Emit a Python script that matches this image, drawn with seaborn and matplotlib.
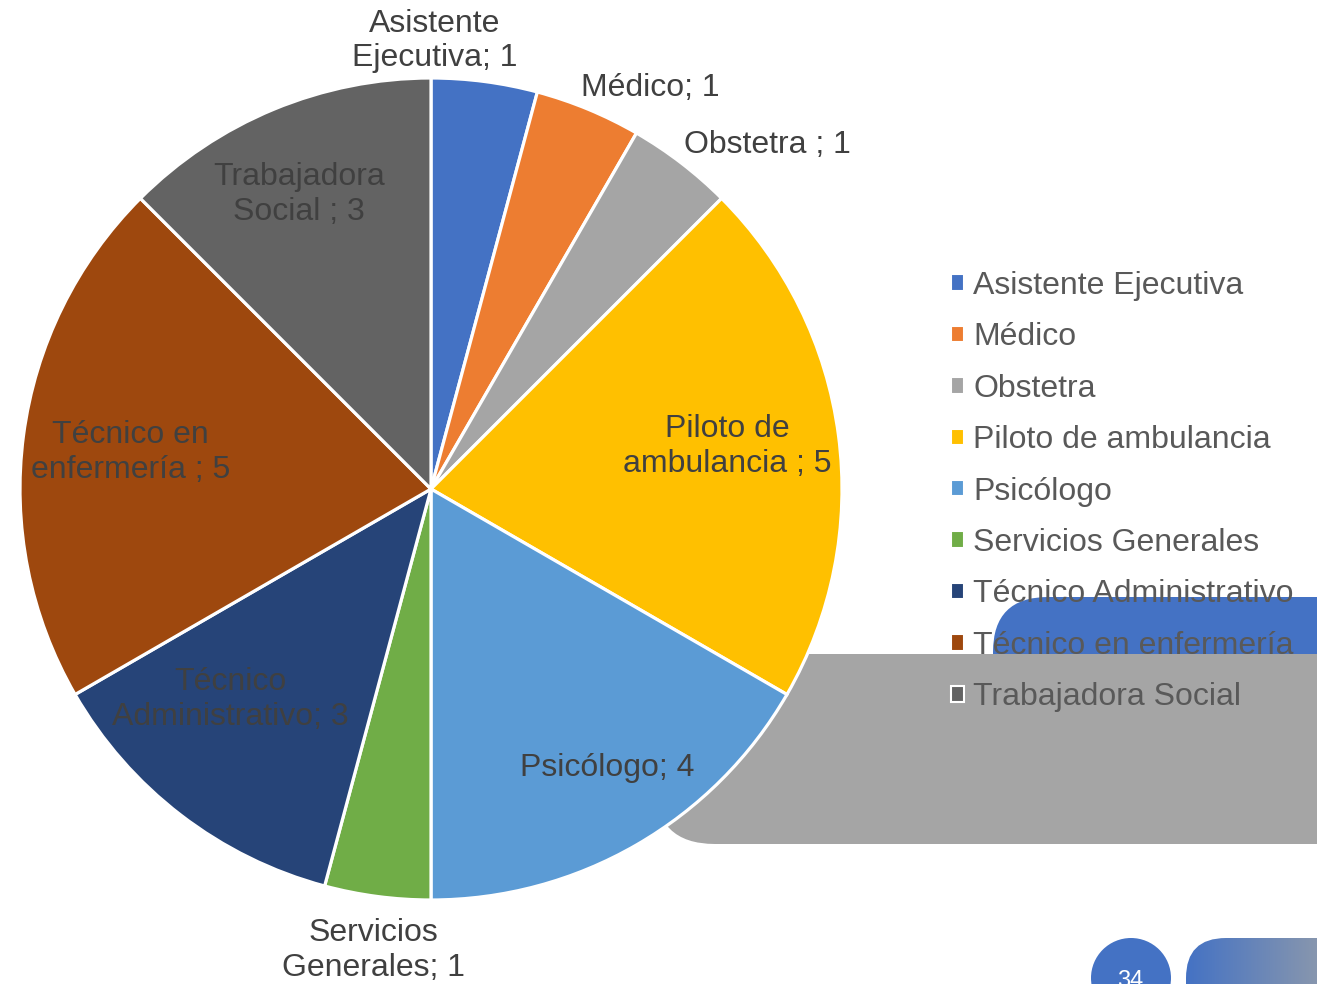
import numpy as np
import matplotlib
matplotlib.use("Agg")
import matplotlib.pyplot as plt
import seaborn as sns
from matplotlib.patches import FancyBboxPatch, Circle, Patch
from matplotlib.colors import LinearSegmentedColormap

# ---- data ----
categories = ["Asistente Ejecutiva", "Médico", "Obstetra", "Piloto de ambulancia",
              "Psicólogo", "Servicios Generales", "Técnico Administrativo",
              "Técnico en enfermería", "Trabajadora Social"]
values = [1, 1, 1, 5, 4, 1, 3, 5, 3]
label_texts = ["Asistente\nEjecutiva; 1", "Médico; 1", "Obstetra ; 1",
               "Piloto de\nambulancia ; 5", "Psicólogo; 4", "Servicios\nGenerales; 1",
               "Técnico\nAdministrativo; 3", "Técnico en\nenfermería ; 5",
               "Trabajadora\nSocial ; 3"]
colors = ["#4472C4", "#ED7D31", "#A5A5A5", "#FFC000", "#5B9BD5",
          "#70AD47", "#264478", "#9E480E", "#636363"]
# label positions (in pie-radius units)
label_pos = [(0.01, 1.090), (0.533, 0.975), (0.818, 0.838), (0.720, 0.103),
             (0.428, -0.680), (-0.139, -1.123), (-0.489, -0.512),
             (-0.732, 0.089), (-0.321, 0.717)]

sns.set_theme(style="white")
plt.rcParams['font.family'] = ['Liberation Sans', 'DejaVu Sans']

W, H = 1317, 984
fig = plt.figure(figsize=(W / 100, H / 100), dpi=100)
fig.patch.set_facecolor("white")

# ---- slide decoration (background) ----
bg = fig.add_axes([0, 0, 1, 1], zorder=0)
bg.set_xlim(0, W)
bg.set_ylim(H, 0)
bg.axis("off")
bg.add_patch(FancyBboxPatch((993, 597), 500, 200,
                            boxstyle="round,pad=0,rounding_size=55",
                            facecolor="#4472C4", edgecolor="none"))
bg.add_patch(FancyBboxPatch((655, 654), 800, 190,
                            boxstyle="round,pad=0,rounding_size=60",
                            facecolor="#A5A5A5", edgecolor="none"))
bg.add_patch(Circle((1131, 978), 40, facecolor="#4472C4", edgecolor="none"))
bg.text(1130, 981, "34", color="white", fontsize=17, ha="center", va="center")
grad = np.linspace(0, 1, 256).reshape(1, -1)
cmap = LinearSegmentedColormap.from_list("g", ["#4472C4", "#8796AE"])
box = FancyBboxPatch((1186, 938), 300, 120, boxstyle="round,pad=0,rounding_size=40",
                     facecolor="none", edgecolor="none")
bg.add_patch(box)
im = bg.imshow(grad, cmap=cmap, extent=(1186, 1317, 1058, 938), aspect="auto")
im.set_clip_path(box)
bg.set_xlim(0, W)
bg.set_ylim(H, 0)

# ---- pie ----
cx, cy, R = 431, 489, 411
ax = fig.add_axes([(cx - R) / W, (H - cy - R) / H, 2 * R / W, 2 * R / H], zorder=2)
wedges, _ = ax.pie(values, colors=colors, startangle=90, counterclock=False,
                   radius=1, wedgeprops=dict(edgecolor="white", linewidth=2.3))
ax.set_xlim(-1, 1)
ax.set_ylim(-1, 1)
ax.set_aspect("auto")
ax.axis("off")
for txt, (x, y) in zip(label_texts, label_pos):
    ax.text(x, y, txt, ha="center", va="center", fontsize=23, color="#404040",
            linespacing=1.2, clip_on=False)

# ---- legend ----
handles = [Patch(facecolor=c, edgecolor="white", linewidth=1.5) for c in colors]
leg = fig.legend(handles, categories, loc="upper left",
                 bbox_to_anchor=(951 / W, 1 - 271 / H), frameon=False,
                 fontsize=23, handlelength=0.42, handleheight=0.42,
                 handletextpad=0.28, labelspacing=0.67, borderpad=0,
                 borderaxespad=0)
for t in leg.get_texts():
    t.set_color("#595959")
leg.set_zorder(5)

fig.savefig("out.png", dpi=100, facecolor="white")
